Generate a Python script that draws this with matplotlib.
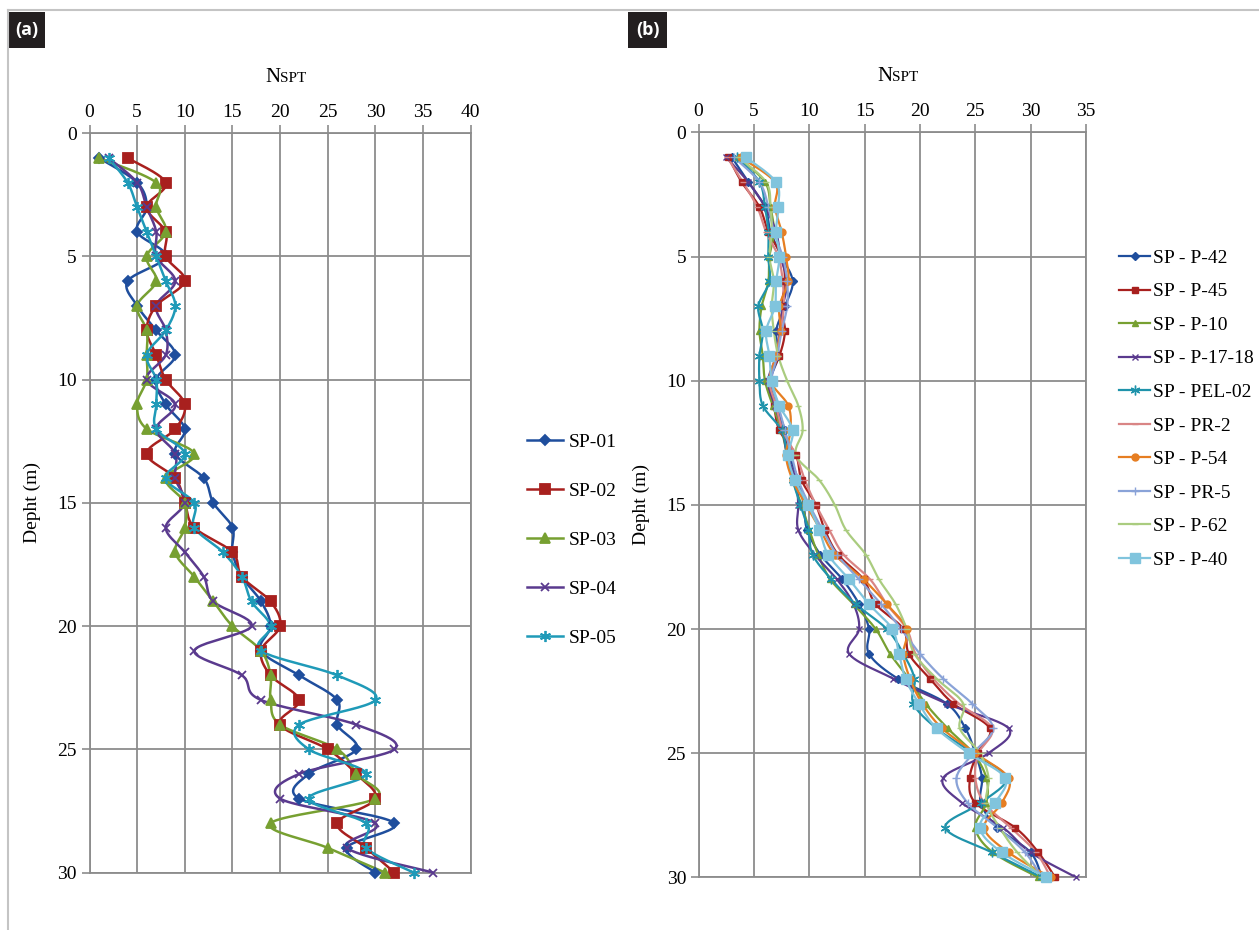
import numpy as np
import matplotlib
matplotlib.use("Agg")
import matplotlib.pyplot as plt
from matplotlib.lines import Line2D
from matplotlib.patches import Rectangle

###############################################################################
# Data

depth = np.arange(1, 31)

# panel (a)
sp01 = [1, 5, 6, 5, 8, 4, 5, 7, 9, 7, 8, 10, 9, 12, 13, 15, 15, 16, 18, 19,
        18, 22, 26, 26, 28, 23, 22, 32, 27, 30]
sp02 = [4, 8, 6, 8, 8, 10, 7, 6, 7, 8, 10, 9, 6, 9, 10, 11, 15, 16, 19, 20,
        18, 19, 22, 20, 25, 28, 30, 26, 29, 32]
sp03 = [1, 7, 7, 8, 6, 7, 5, 6, 6, 6, 5, 6, 11, 8, 10, 10, 9, 11, 13, 15,
        18, 19, 19, 20, 26, 28, 30, 19, 25, 31]
sp04 = [2, 5, 6, 7, 7, 9, 7, 8, 8, 6, 9, 7, 9, 9, 10, 8, 10, 12, 13, 17,
        11, 16, 18, 28, 32, 22, 20, 30, 27, 36]
sp05 = [2, 4, 5, 6, 7, 8, 9, 8, 6, 7, 7, 7, 10, 8, 11, 11, 14, 16, 17, 19,
        18, 26, 30, 22, 23, 29, 23, 29, 29, 34]
names_a = ["SP-01", "SP-02", "SP-03", "SP-04", "SP-05"]

# panel (b)
p42 = [3, 4.5, 6, 6.5, 7.5, 8.5, 7.8, 7, 7.2, 6.5, 7, 7.8, 8.2, 9, 9.5, 9.8,
       11, 13, 14.5, 15.4, 15.4, 18, 22.4, 24.1, 25, 25.6, 25.5, 27, 30, 31]
p45 = [2.7, 3.9, 5.5, 6.3, 7.5, 7.8, 7.5, 7.8, 7.3, 6.3, 6.8, 7.3, 8.8, 9.3,
       10.6, 11.4, 12.6, 14.9, 16, 18.5, 19, 20.9, 23, 26.3, 25.2, 24.5, 25,
       28.6, 30.7, 32.2]
p10 = [3.6, 6, 6.5, 6.8, 6.4, 6.3, 5.7, 5.5, 5.8, 6, 6.7, 7.5, 8, 8.5, 9.3,
       10, 10.8, 11.9, 14, 16, 17.3, 19, 20.5, 22.5, 24.8, 26, 26, 25, 26.6,
       30.7]
p1718 = [2.5, 4.5, 6, 7, 7.4, 8, 7.6, 7.3, 7, 6.3, 6.9, 7.6, 8, 8.8, 9, 9,
         10.5, 12.5, 14, 14.5, 13.6, 17.6, 22.4, 28, 26.2, 22.1, 23.8, 27.5,
         30, 34.1]
pel02 = [3.5, 5.5, 6, 6.3, 6.3, 6.4, 5.4, 5.8, 5.5, 5.5, 5.8, 7.5, 8, 8.5,
         9.2, 9.9, 10.3, 12, 14.2, 17, 18.5, 19.5, 19.4, 21.5, 24.8, 27.8,
         25.5, 22.3, 26.5, 31]
pr2 = [2.6, 4, 5.3, 6.1, 7.2, 7.6, 7.7, 7.4, 7, 6.4, 7, 7.6, 8.8, 9.6, 10.6,
       11.8, 13.1, 15.5, 17, 18.8, 19.6, 21.2, 23.5, 26.5, 25.3, 25, 25.8,
       28.2, 30.5, 31.8]
p54 = [3.8, 6.9, 6.9, 7.5, 7.9, 8.1, 7.3, 7.4, 7, 6.5, 8.1, 8.3, 7.9, 8.5,
       9.7, 11, 12.3, 14.9, 17, 18.8, 18.5, 19.1, 20.2, 22, 25, 28, 27.4,
       25.8, 28, 31.8]
pr5 = [3.2, 5.5, 6.3, 6.8, 7.6, 8, 8, 7.5, 7.1, 6.6, 7.2, 7.8, 8.4, 9, 10,
       11.2, 12.5, 14.5, 16.5, 18.3, 20, 22.1, 24.7, 26.6, 24.8, 23.3, 24.3,
       27, 29.5, 31]
p62 = [3.6, 6.1, 6.5, 6.6, 6.4, 6.8, 6.6, 6.8, 7.2, 8, 9, 9.4, 8.8, 10.9,
       12.3, 13.3, 15.1, 16.3, 17.8, 18.8, 19.5, 21.5, 23.9, 23.6, 25.4,
       26.2, 26, 27.2, 28.8, 31]
p40 = [4.3, 7, 7.2, 7, 7.3, 7, 6.9, 6.1, 6.4, 6.6, 7.3, 8.5, 8.1, 8.7, 9.9,
       10.9, 11.7, 13.6, 15.4, 17.5, 18.1, 18.7, 19.9, 21.5, 24.4, 27.7,
       26.8, 25.4, 27.4, 31.4]
names_b = ["SP - P-42", "SP - P-45", "SP - P-10", "SP - P-17-18",
           "SP - PEL-02", "SP - PR-2", "SP - P-54", "SP - PR-5", "SP - P-62",
           "SP - P-40"]

###############################################################################
# Styles

serif = "Liberation Serif"
asterisk = (6, 2, 0)

style_a = [("#1f4e9d", "D", 5.5), ("#a8201e", "s", 6.5), ("#77a031", "^", 6.5),
           ("#5a3a8e", "x", 6), ("#1f9ab8", asterisk, 8)]
style_b = [("#1f4e9d", "D", 4), ("#a8201e", "s", 5), ("#77a031", "^", 5),
           ("#5a3a8e", "x", 5), ("#1f93ab", asterisk, 7), ("#d98585", "_", 5),
           ("#e67e22", "o", 5), ("#8aa3d8", "+", 6), ("#aacc7f", "_", 5),
           ("#80c4dd", "s", 7)]


def smooth(x, y, n=24):
    # Bezier smoothing like the spreadsheet "smoothed line"
    pts = np.column_stack([x, y]).astype(float)
    P = np.vstack([pts[0], pts, pts[-1]])
    t = np.linspace(0, 1, n)[:, None]
    out = []
    for i in range(len(pts) - 1):
        p0, p1, p2, p3 = P[i], P[i + 1], P[i + 2], P[i + 3]
        c1 = p1 + (p2 - p0) / 6.0
        c2 = p2 - (p3 - p1) / 6.0
        seg = ((1 - t) ** 3 * p1 + 3 * (1 - t) ** 2 * t * c1
               + 3 * (1 - t) * t ** 2 * c2 + t ** 3 * p2)
        out.append(seg)
    return np.vstack(out)


def setup_axes(ax, xmax, xstep):
    ax.set_xlim(0, xmax)
    ax.set_ylim(30, 0)
    ax.set_xticks(np.arange(0, xmax + 1, xstep))
    ax.set_yticks(np.arange(0, 31, 5))
    ax.xaxis.tick_top()
    ax.grid(True, color="#8c8c8c", lw=1.3)
    ax.set_axisbelow(True)
    for s in ax.spines.values():
        s.set_color("#8c8c8c")
        s.set_linewidth(1.3)
    ax.tick_params(axis="both", direction="out", length=6, width=1.2,
                   color="#8c8c8c", labelsize=14, pad=3)
    for lab in ax.get_xticklabels() + ax.get_yticklabels():
        lab.set_fontfamily(serif)
    ax.set_ylabel("Depht (m)", fontsize=14, family=serif, labelpad=12)


def draw_series(ax, data, styles, lw, mew):
    handles = []
    for vals, (c, m, ms) in zip(data, styles):
        cur = smooth(vals, depth)
        ax.plot(cur[:, 0], cur[:, 1], color=c, lw=lw, zorder=3,
                solid_capstyle="round")
        ax.plot(vals, depth, ls="none", marker=m, ms=ms, color=c,
                mec=c, mew=mew, zorder=4, clip_on=False)
        handles.append(Line2D([], [], color=c, lw=lw, marker=m, ms=ms,
                              mec=c, mew=mew))
    return handles


###############################################################################
# Figure

W, H = 1259, 930
fig = plt.figure(figsize=(W / 100, H / 100), dpi=100)


def fx(px):
    return px / W


def fy(py):
    return 1 - py / H


ax_a = fig.add_axes([fx(89.5), fy(872.5), fx(470.7 - 89.5), (872.5 - 133.3) / H])
ax_b = fig.add_axes([fx(698.6), fy(877.3), fx(1086 - 698.6), (877.3 - 132.5) / H])

setup_axes(ax_a, 40, 5)
setup_axes(ax_b, 35, 5)

h_a = draw_series(ax_a, [sp01, sp02, sp03, sp04, sp05], style_a, 1.8, 1.3)
h_b = draw_series(ax_b, [p42, p45, p10, p1718, pel02, pr2, p54, pr5, p62, p40],
                  style_b, 1.6, 1.0)

# NSPT titles above the top axis
for ax in (ax_a, ax_b):
    ax.text(0.5, 1 + 51 / 740.0, "N", transform=ax.transAxes, ha="right",
            va="baseline", fontsize=15, family=serif)
    ax.text(0.5, 1 + 51 / 740.0, "SPT", transform=ax.transAxes, ha="left",
            va="baseline", fontsize=11, family=serif)

fig.legend(h_a, names_a, loc="center left",
           bbox_to_anchor=(fx(527), fy(540)), frameon=False, borderpad=0,
           borderaxespad=0, labelspacing=1.62, handlelength=1.85,
           handletextpad=0.3, prop={"family": serif, "size": 14})
fig.legend(h_b, names_b, loc="center left",
           bbox_to_anchor=(fx(1119), fy(409)), frameon=False, borderpad=0,
           borderaxespad=0, labelspacing=0.82, handlelength=1.6,
           handletextpad=0.15, prop={"family": serif, "size": 14})

# outer frame and panel tags
fig.add_artist(Line2D([fx(8), 1], [fy(10), fy(10)], color="#c4c4c4", lw=1.5))
fig.add_artist(Line2D([fx(8), fx(8)], [fy(10), 0], color="#c4c4c4", lw=1.5))
for x0, x1, tag in [(8, 45, "(a)"), (628, 667, "(b)")]:
    fig.add_artist(Rectangle((fx(x0), fy(48)), fx(x1 - x0), (48 - 12) / H,
                             transform=fig.transFigure, color="#231f20",
                             lw=0))
    fig.text(fx((x0 + x1) / 2), fy(30), tag, color="white", ha="center",
             va="center", fontsize=13, fontweight="bold", family="Open Sans")

fig.savefig("out.png", dpi=100, facecolor="white")
